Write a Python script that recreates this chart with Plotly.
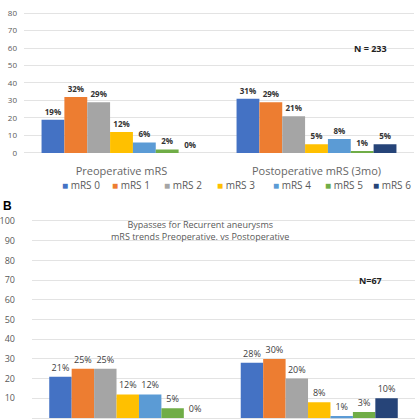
import plotly.graph_objects as go

# %% data
series = ["mRS 0", "mRS 1", "mRS 2", "mRS 3", "mRS 4", "mRS 5", "mRS 6"]
colors = ["#4472C4", "#ED7D31", "#A5A5A5", "#FFC000", "#5B9BD5", "#70AD47", "#264478"]

groups_a = ["Preoperative mRS", "Postoperative mRS (3mo)"]
pre_a = [19, 32, 29, 12, 6, 2, 0]
post_a = [31, 29, 21, 5, 8, 1, 5]

groups_b = ["Preoperative mRS", "Postoperative mRS"]
pre_b = [21, 25, 25, 12, 12, 5, 0]
post_b = [28, 30, 20, 8, 1, 3, 10]

ticks_a = [0, 10, 20, 30, 40, 50, 60, 70, 80]
ticks_b = [0, 10, 20, 30, 40, 50, 60, 70, 80, 90, 100]

# %% figure
fig = go.Figure()

for i, name in enumerate(series):
    fig.add_trace(go.Bar(
        x=groups_a, y=[pre_a[i], post_a[i]], name=name, showlegend=False,
        marker=dict(color=colors[i], line=dict(width=0)),
        text=[f"<b>{pre_a[i]}%</b>", f"<b>{post_a[i]}%</b>"], textposition="outside",
        textfont=dict(size=8, color="#333333"),
        cliponaxis=False, xaxis="x", yaxis="y",
    ))
    fig.add_trace(go.Bar(
        x=groups_b, y=[pre_b[i], post_b[i]], name=name, showlegend=False,
        marker=dict(color=colors[i], line=dict(width=0)),
        text=[f"{pre_b[i]}%", f"{post_b[i]}%"], textposition="outside",
        textfont=dict(size=9, color="#404040"),
        cliponaxis=False, xaxis="x2", yaxis="y2",
    ))

# legend drawn as a row of small coloured squares + labels (like the original)
legend_x = [60, 110, 162, 215, 271, 323, 371]
notes = []
for i, name in enumerate(series):
    notes.append(dict(
        text=f"<span style='color:{colors[i]}'>■</span> {name}",
        x=legend_x[i] / 420, y=1 - 185 / 420, xref="paper", yref="paper",
        xanchor="left", showarrow=False, font=dict(size=10, color="#595959"),
    ))

grid = "#e3e3e3"
fig.update_layout(
    width=420, height=420,
    margin=dict(l=0, r=0, t=0, b=0),
    paper_bgcolor="white", plot_bgcolor="white",
    font=dict(family="Open Sans", color="#595959"),
    barmode="group", bargap=0.18, bargroupgap=0,
    uniformtext=dict(mode="show", minsize=7),
    xaxis=dict(domain=[24 / 420, 414 / 420], anchor="y", showgrid=False,
               tickfont=dict(size=11, color="#666666"), ticks="", showline=False,
               ticklabelstandoff=7),
    yaxis=dict(domain=[0.6274, 0.9857], range=[-2, 84], tickvals=ticks_a,
               showgrid=True, gridcolor=grid, zeroline=False,
               tickfont=dict(size=8, color="#595959"), ticklabelstandoff=6),
    xaxis2=dict(domain=[32 / 420, 415 / 420], anchor="y2", showgrid=False,
                showticklabels=False, ticks="", showline=False),
    yaxis2=dict(domain=[0.0, 0.502], range=[-1, 106], tickvals=ticks_b,
                showgrid=True, gridcolor=grid, zeroline=False,
                tickfont=dict(size=9, color="#595959"), ticklabelstandoff=8),
    showlegend=False,
    annotations=notes + [
        dict(text="<b>N = 233</b>", x=389 / 420, y=1 - 40 / 420, xref="paper", yref="paper",
             showarrow=False, font=dict(size=9, color="#222222")),
        dict(text="<b>N=67</b>", x=384 / 420, y=1 - 289 / 420, xref="paper", yref="paper",
             showarrow=False, font=dict(size=9, color="#222222")),
        dict(text="<b>B</b>", x=1 / 420, y=1 - 206 / 420, xref="paper", yref="paper",
             xanchor="left", showarrow=False, font=dict(size=12, color="#000000", family="Arial")),
        dict(text="Bypasses for Recurrent aneurysms<br>mRS trends Preoperative. vs Postoperative",
             x=200 / 420, y=1 - 230 / 420, xref="paper", yref="paper",
             showarrow=False, font=dict(size=9, color="#595959")),
    ],
)

# page body has an 8px default margin; drop it so the figure sits at the corner
fig.write_html("out.html", config={"displayModeBar": False},
               post_script="document.body.style.margin='0';")
